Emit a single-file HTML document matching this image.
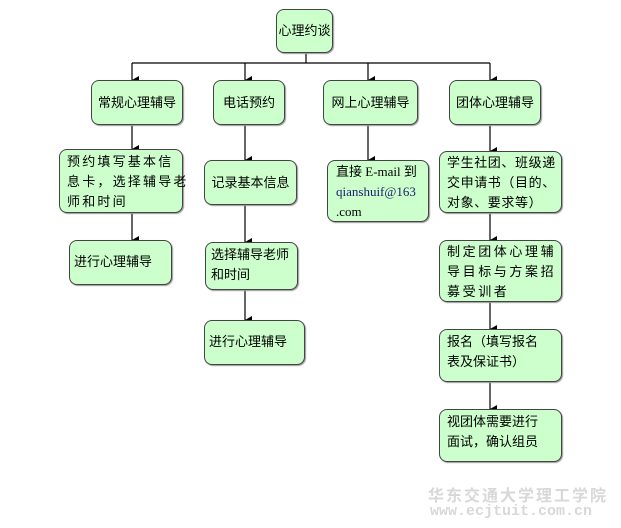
<!DOCTYPE html>
<html><head><meta charset="utf-8"><style>
body{margin:0;background:#fff;width:621px;height:528px;position:relative;overflow:hidden;font-family:"Liberation Serif","Noto Sans CJK SC",sans-serif;font-size:13px;color:#000}
.b{position:absolute;background:#ccffcc;border:1.5px solid #444;border-radius:8px;box-sizing:border-box;line-height:20px;padding:3px 7px;box-shadow:1px 1px 1px #999;white-space:nowrap}
.c{display:flex;align-items:center;justify-content:center;padding:0}
svg{position:absolute;left:0;top:0}
.wm{position:absolute;color:#d8d8d8;font-weight:bold;letter-spacing:1px}
</style></head><body>
<svg width="621" height="528">
<defs><marker id="a" markerWidth="8" markerHeight="8" refX="4" refY="7" orient="auto" markerUnits="userSpaceOnUse"><path d="M0,0 L8,0 L4,7 z" fill="#000"/></marker></defs>
<g stroke="#000" stroke-width="1.2" fill="none">
<line x1="306" y1="53" x2="306" y2="63"/>
<line x1="132" y1="63" x2="490" y2="63"/>
<line x1="132" y1="63" x2="132" y2="80" marker-end="url(#a)"/>
<line x1="245" y1="63" x2="245" y2="80" marker-end="url(#a)"/>
<line x1="368" y1="63" x2="368" y2="80" marker-end="url(#a)"/>
<line x1="490" y1="63" x2="490" y2="80" marker-end="url(#a)"/>
<line x1="132" y1="125" x2="132" y2="149" marker-end="url(#a)"/>
<line x1="132" y1="213" x2="132" y2="240" marker-end="url(#a)"/>
<line x1="245" y1="125" x2="245" y2="160" marker-end="url(#a)"/>
<line x1="245" y1="205" x2="245" y2="242" marker-end="url(#a)"/>
<line x1="245" y1="290" x2="245" y2="320" marker-end="url(#a)"/>
<line x1="368" y1="125" x2="368" y2="160" marker-end="url(#a)"/>
<line x1="490" y1="125" x2="490" y2="151" marker-end="url(#a)"/>
<line x1="490" y1="213" x2="490" y2="240" marker-end="url(#a)"/>
<line x1="490" y1="302" x2="490" y2="329" marker-end="url(#a)"/>
<line x1="490" y1="382" x2="490" y2="409" marker-end="url(#a)"/>
</g></svg>
<div class="b c" style="left:276px;top:9px;width:57px;height:44px">心理约谈</div>
<div class="b c" style="left:91px;top:80px;width:92px;height:45px">常规心理辅导</div>
<div class="b c" style="left:213px;top:80px;width:72px;height:45px">电话预约</div>
<div class="b c" style="left:323px;top:80px;width:95px;height:45px">网上心理辅导</div>
<div class="b c" style="left:449px;top:80px;width:92px;height:45px">团体心理辅导</div>
<div class="b" style="left:59px;top:149px;width:124px;height:64px;letter-spacing:2.2px;padding-top:2px">预约填写基本信<br>息卡，选择辅导老<br>师和时间</div>
<div class="b" style="left:69px;top:240px;width:103px;height:45px;padding-top:11px;padding-left:4px">进行心理辅导</div>
<div class="b c" style="left:204px;top:160px;width:93px;height:45px">记录基本信息</div>
<div class="b" style="left:205px;top:242px;width:93px;height:48px;padding-top:2px;padding-left:5px">选择辅导老师<br>和时间</div>
<div class="b" style="left:204px;top:320px;width:101px;height:45px;padding-top:11px;padding-left:4px">进行心理辅导</div>
<div class="b" style="left:327px;top:160px;width:102px;height:62px;padding-top:1px;padding-left:8px;line-height:20px">直接 E-mail 到<br><span style="color:#1a1a6e">qianshuif@163</span><br>.com</div>
<div class="b" style="left:439px;top:151px;width:123px;height:62px;letter-spacing:0.6px;padding-top:1px">学生社团、班级递<br>交申请书（目的、<br>对象、要求等）</div>
<div class="b" style="left:439px;top:240px;width:123px;height:62px;letter-spacing:2.6px;padding-top:1px">制定团体心理辅<br>导目标与方案招<br>募受训者</div>
<div class="b" style="left:439px;top:329px;width:123px;height:53px;padding-top:2px">报名（填写报名<br>表及保证书）</div>
<div class="b" style="left:439px;top:409px;width:123px;height:53px;padding-top:2px">视团体需要进行<br>面试，确认组员</div>
<div class="wm" style="left:428px;top:482px;font-size:16px;letter-spacing:2px">华东交通大学理工学院</div>
<div class="wm" style="left:430px;top:503px;font-size:15px;font-family:'Liberation Mono',monospace;letter-spacing:0">www.ecjtuit.com.cn</div>
</body></html>
